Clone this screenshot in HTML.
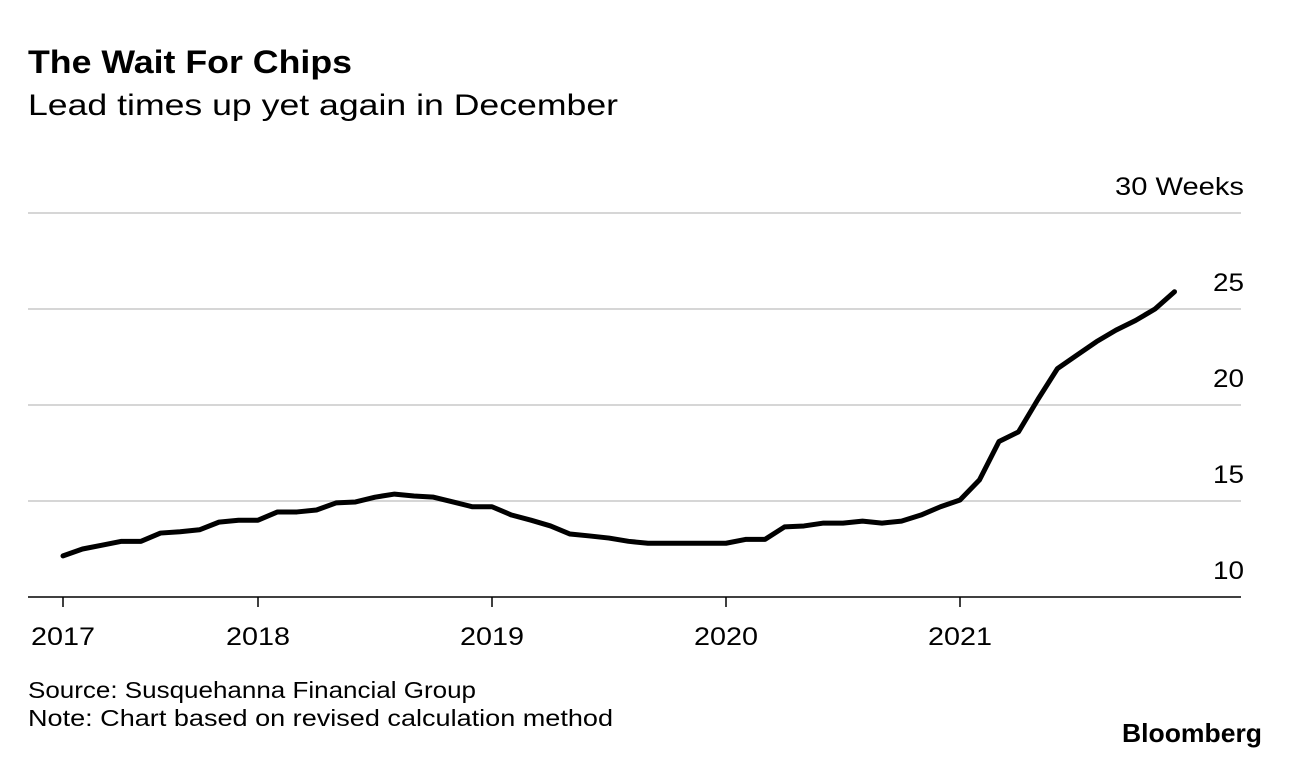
<!DOCTYPE html>
<html><head><meta charset="utf-8"><style>
body{margin:0;background:#fff;font-family:"Liberation Sans",sans-serif;}
svg{display:block}
</style></head><body>
<svg width="1289" height="758">
<text x="28" y="73" font-size="32" font-weight="bold" fill="#000" textLength="324" lengthAdjust="spacingAndGlyphs">The Wait For Chips</text>
<text x="28" y="115" font-size="30" fill="#000" textLength="590" lengthAdjust="spacingAndGlyphs">Lead times up yet again in December</text>
<g id="grid"></g>
<g id="xaxis"></g>
<path id="line" fill="none" stroke="#000" stroke-width="5" stroke-linejoin="round" stroke-linecap="round"/>
<text x="28" y="698" font-size="23" fill="#000" textLength="448" lengthAdjust="spacingAndGlyphs">Source: Susquehanna Financial Group</text>
<text x="28" y="726" font-size="23" fill="#000" textLength="585" lengthAdjust="spacingAndGlyphs">Note: Chart based on revised calculation method</text>
<text x="1122" y="742" font-size="26" font-weight="bold" fill="#000" textLength="140" lengthAdjust="spacingAndGlyphs">Bloomberg</text>
</svg>
<script>
const values=[12.14,12.5,12.7,12.9,12.9,13.33,13.4,13.5,13.9,14.0,14.0,14.43,14.43,14.53,14.9,14.95,15.2,15.36,15.26,15.2,14.95,14.7,14.7,14.27,14.0,13.7,13.28,13.18,13.07,12.9,12.8,12.8,12.8,12.8,12.8,13.0,13.0,13.65,13.7,13.85,13.85,13.95,13.85,13.95,14.27,14.7,15.05,16.1,18.1,18.6,20.3,21.9,22.6,23.3,23.9,24.4,25.0,25.9];
const yTicks=[10,15,20,25,30];
const yearLabels=["2017","2018","2019","2020","2021"];
const yearIdx=[0,10,22,34,46];
const NS="http://www.w3.org/2000/svg";
const xs=i=>63+i*19.5;
const ys=v=>597-(v-10)*19.2;
const grid=document.getElementById('grid');
yTicks.forEach(t=>{
  if(t>10){
    const l=document.createElementNS(NS,'line');
    l.setAttribute('x1',28);l.setAttribute('x2',1241);
    l.setAttribute('y1',ys(t));l.setAttribute('y2',ys(t));
    l.setAttribute('stroke','#d6d6d6');l.setAttribute('stroke-width','2');
    
    
    grid.appendChild(l);
  }
  const tx=document.createElementNS(NS,'text');
  tx.setAttribute('x',1244);tx.setAttribute('y',ys(t)-18);
  tx.setAttribute('text-anchor','end');tx.setAttribute('font-size','25');
  if(t===30){tx.setAttribute('textLength','129');tx.setAttribute('lengthAdjust','spacingAndGlyphs');}
  else{tx.setAttribute('textLength','31');tx.setAttribute('lengthAdjust','spacingAndGlyphs');}
  tx.textContent=t===30?'30 Weeks':String(t);
  
  
  grid.appendChild(tx);
});
const xa=document.getElementById('xaxis');
const base=document.createElementNS(NS,'line');
base.setAttribute('x1',28);base.setAttribute('x2',1241);base.setAttribute('y1',597);base.setAttribute('y2',597);
base.setAttribute('stroke','#000');base.setAttribute('stroke-width','1.5');


xa.appendChild(base);
yearLabels.forEach((y,k)=>{
  const x=xs(yearIdx[k]);
  const tk=document.createElementNS(NS,'line');
  tk.setAttribute('x1',x);tk.setAttribute('x2',x);tk.setAttribute('y1',597);tk.setAttribute('y2',607);
  tk.setAttribute('stroke','#000');tk.setAttribute('stroke-width','1.5');
  
  
  xa.appendChild(tk);
  const tx=document.createElementNS(NS,'text');
  tx.setAttribute('x',x-32);tx.setAttribute('y',645);tx.setAttribute('font-size','25');
  tx.setAttribute('textLength','64');tx.setAttribute('lengthAdjust','spacingAndGlyphs');
  tx.textContent=y;
  
  
  xa.appendChild(tx);
});
document.getElementById('line').setAttribute('d',values.map((v,i)=>(i?'L':'M')+xs(i)+' '+ys(v)).join(' '));
</script>
</body></html>
